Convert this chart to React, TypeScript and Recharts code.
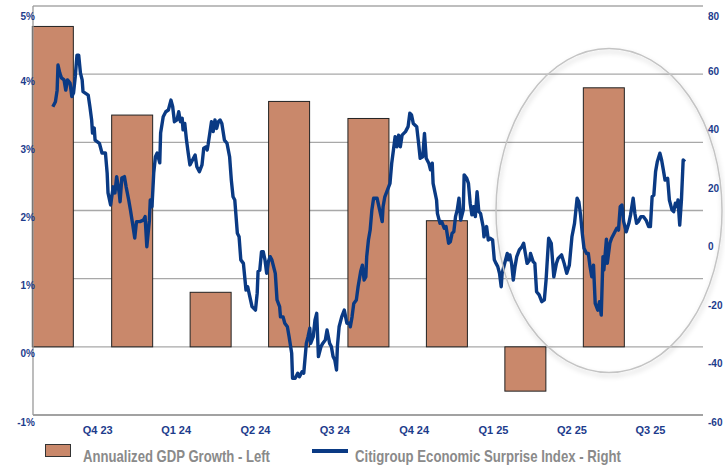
import React from 'react';
import {
  ComposedChart,
  Bar,
  Line,
  XAxis,
  YAxis,
  CartesianGrid,
  ReferenceDot
} from 'recharts';

// x runs in days from the left edge of the plot
const quarterLabels = ['Q4 23', 'Q1 24', 'Q2 24', 'Q3 24', 'Q4 24', 'Q1 25', 'Q2 25', 'Q3 25'];
const quarterTickDays = [75, 166, 258, 350, 442, 534, 625, 716];

const gdpQuarters = ['Q3 23', 'Q4 23', 'Q1 24', 'Q2 24', 'Q3 24', 'Q4 24', 'Q1 25', 'Q2 25'];
const gdpDays = [23, 115, 206, 297, 389, 480, 571, 662];
const gdpGrowth = [4.7, 3.4, 0.8, 3.6, 3.35, 1.85, -0.65, 3.8];

const leftTicks = [-1, 0, 1, 2, 3, 4, 5];
const rightTicks = [-60, -40, -20, 0, 20, 40, 60, 80];

// [day, index value]
const surpriseIndex: [number, number][] = [
  [23, 45.5], [26, 47.2], [28, 51.2], [29, 59.8], [31, 57.1], [33, 55.4], [36, 54.7], [38, 51.2],
  [40, 54.7], [43, 53.6], [45, 49.0], [47, 50.2], [49, 55.8], [51, 63.2], [53, 63.2], [55, 57.1],
  [57, 54.7], [58, 50.7], [64, 49.5], [66, 45.5], [68, 41.0], [69, 36.5], [71, 38.2], [72, 34.1],
  [77, 33.0], [80, 29.7], [84, 29.7], [86, 22.8], [87, 16.0], [90, 11.9], [93, 18.1], [95, 16.0],
  [97, 21.6], [100, 16.0], [101, 13.0], [103, 21.1], [106, 21.6], [108, 18.1], [111, 13.6], [113, 10.2],
  [116, 4.5], [118, 0.6], [120, 6.2], [124, 6.2], [128, 6.7], [130, 7.9], [132, -2.4], [135, 6.7],
  [136, 13.6], [138, 11.3], [140, 22.8], [142, 28.4], [144, 29.7], [147, 26.3], [148, 36.5], [151, 42.1],
  [154, 43.8], [157, 44.4], [160, 47.8], [162, 45.5], [164, 40.4], [167, 41.0], [169, 43.8], [171, 40.4],
  [173, 41.6], [174, 37.6], [176, 39.8], [178, 34.1], [180, 29.7], [182, 25.6], [185, 27.3], [188, 29.0],
  [190, 25.0], [193, 23.3], [196, 25.6], [198, 31.3], [201, 31.8], [202, 30.7], [203, 32.4], [205, 36.4],
  [207, 40.4], [209, 37.0], [211, 41.0], [213, 38.1], [215, 40.4], [217, 41.0], [219, 39.8], [222, 34.1],
  [225, 33.0], [228, 28.4], [230, 20.4], [232, 14.7], [234, 13.6], [237, 2.2], [239, 1.0], [241, -6.9],
  [244, -8.1], [247, -17.2], [249, -16.1], [251, -18.9], [254, -22.9], [258, -24.1], [260, -18.3], [261, -10.9],
  [263, -10.4], [265, -4.1], [267, -4.1], [269, -6.9], [271, -11.5], [273, -7.5], [275, -5.8], [277, -6.9],
  [281, -11.5], [283, -20.6], [286, -22.9], [287, -26.4], [290, -26.4], [292, -28.6], [295, -29.8], [297, -33.2],
  [300, -38.9], [301, -47.4], [304, -47.4], [307, -45.7], [309, -46.9], [312, -45.2], [314, -45.7], [317, -35.5],
  [319, -33.2], [321, -30.3], [322, -35.5], [325, -33.2], [327, -27.5], [329, -25.2], [331, -40.0], [334, -36.6],
  [336, -35.5], [339, -34.3], [341, -30.9], [344, -35.5], [346, -36.6], [348, -40.0], [350, -41.2], [352, -44.6],
  [353, -36.6], [355, -29.8], [358, -26.4], [361, -24.1], [364, -28.6], [367, -28.6], [368, -29.8], [370, -26.4],
  [372, -21.8], [375, -20.6], [377, -16.1], [380, -10.9], [382, -8.7], [384, -13.8], [386, -12.7], [387, -5.8],
  [389, -0.1], [391, 3.3], [393, 10.2], [395, 14.2], [399, 14.2], [402, 10.2], [405, 6.2], [406, 11.3],
  [408, 14.7], [411, 17.0], [414, 19.3], [416, 26.2], [418, 30.7], [420, 35.3], [422, 31.8], [424, 35.8],
  [426, 31.8], [428, 35.8], [432, 37.0], [435, 38.7], [437, 43.3], [439, 42.7], [441, 39.8], [445, 38.7],
  [447, 33.5], [449, 27.9], [452, 28.4], [454, 36.4], [456, 27.9], [459, 26.2], [461, 23.9], [463, 26.2],
  [464, 19.3], [468, 13.6], [469, 9.0], [472, 5.6], [474, 6.2], [477, 3.9], [479, 4.5], [482, -1.2],
  [484, -0.7], [486, 2.2], [488, 2.7], [490, 7.9], [492, 10.2], [494, 14.2], [496, 6.7], [499, 10.2],
  [500, 22.2], [503, 21.0], [505, 19.3], [507, 12.5], [509, 8.5], [511, 11.3], [513, 7.9], [515, 16.4],
  [517, 9.6], [519, 9.0], [522, 4.5], [523, 1.0], [526, 4.5], [528, -0.1], [530, 0.5], [533, -0.1],
  [535, -6.9], [537, -8.1], [539, -9.2], [541, -11.5], [543, -16.1], [544, -11.5], [547, -8.1], [550, -4.7],
  [551, -6.9], [553, -5.2], [555, -8.1], [557, -13.8], [559, -9.2], [561, -5.8], [564, -3.5], [567, -2.4],
  [569, -1.2], [571, -4.7], [573, -8.1], [576, -6.9], [577, -4.7], [580, -7.5], [582, -8.1], [584, -17.8],
  [587, -18.9], [590, -21.2], [593, -20.6], [595, -13.8], [598, 0.5], [601, -1.2], [604, -12.7], [607, -8.1],
  [609, -6.4], [613, -5.2], [616, -8.1], [619, -11.5], [622, -8.7], [625, 1.0], [628, 5.6], [631, 14.2],
  [633, 13.0], [635, 8.5], [637, 2.2], [639, -2.9], [642, -4.7], [644, -4.7], [646, -9.2], [648, -12.7],
  [650, -8.7], [652, -21.8], [655, -24.1], [657, -21.2], [659, -25.8], [661, -5.8], [662, -10.4], [665, 0.2],
  [666, -8.1], [669, -1.2], [671, 0.5], [674, 2.2], [677, 3.9], [679, 3.3], [681, 11.3], [683, 11.9],
  [685, 6.2], [688, 2.7], [691, 5.6], [693, 8.5], [696, 14.2], [698, 9.0], [700, 5.6], [702, 6.2],
  [705, 7.9], [708, 7.9], [711, 6.7], [714, 4.5], [716, 4.5], [718, 14.7], [720, 15.3], [722, 23.3],
  [724, 26.7], [727, 29.6], [729, 27.3], [731, 23.9], [733, 20.4], [736, 21.0], [738, 13.6], [741, 10.2],
  [743, 9.6], [745, 12.5], [747, 11.3], [748, 13.6], [750, 5.0], [752, 13.6], [754, 27.3], [756, 26.7]
];

const BAR_FILL = '#c9886b';
const LINE_BLUE = '#0a3a84';
const TICK_BLUE = '#1d3c8c';
const GRID = '#a8a8a8';
const FONT = '"Liberation Sans", Arial, sans-serif';
const BAR_WIDTH = 41;

const gdpData = gdpQuarters.map((q, i) => ({ quarter: q, day: gdpDays[i], gdp: gdpGrowth[i] }));
const csiData = surpriseIndex.map(([day, csi]) => ({ day, csi }));

const XTick = (props: any) => {
  const { x, y, payload } = props;
  const idx = quarterTickDays.indexOf(payload.value);
  return (
    <text x={x} y={y + 19} textAnchor="middle" fontSize={11} fontWeight={700} fill={TICK_BLUE} fontFamily={FONT}>
      {quarterLabels[idx]}
    </text>
  );
};

const LeftTick = (props: any) => {
  const { x, y, payload } = props;
  return (
    <text x={x + 2} y={y + 10.5} textAnchor="end" fontSize={10} fontWeight={700} fill={TICK_BLUE} fontFamily={FONT}>
      {`${payload.value}%`}
    </text>
  );
};

const RightTick = (props: any) => {
  const { x, y, payload } = props;
  return (
    <text x={x + 5} y={y + 10.5} textAnchor="start" fontSize={10} fontWeight={700} fill={TICK_BLUE} fontFamily={FONT}>
      {payload.value}
    </text>
  );
};

// numeric x axis leaves the band tiny, so widen each bar around its centre
const GdpBar = (props: any) => {
  const { x, y, width, height } = props;
  if (x == null || y == null) return null;
  const cx = x + width / 2;
  const top = height < 0 ? y + height : y;
  return (
    <rect
      x={cx - BAR_WIDTH / 2}
      y={top}
      width={BAR_WIDTH}
      height={Math.abs(height)}
      fill={BAR_FILL}
      stroke="#222"
      strokeWidth={1}
    />
  );
};

// highlight ring around the recent quarters
const Ring = (props: any) => {
  const { cx, cy } = props;
  if (cx == null || cy == null) return null;
  return (
    <g>
      <defs>
        <filter id="ringShadow" x="-20%" y="-20%" width="140%" height="140%">
          <feDropShadow dx="1" dy="3" stdDeviation="2.5" floodColor="#000" floodOpacity="0.22" />
        </filter>
      </defs>
      <ellipse cx={cx} cy={cy} rx={113} ry={162} fill="none" stroke="#c4c4c4" strokeWidth={1.5} filter="url(#ringShadow)" />
    </g>
  );
};

const App = () => {
  return (
    <div style={{ position: 'absolute', left: 0, top: 0, width: 725, height: 467, background: '#fff' }}>
      <ComposedChart
        width={725}
        height={467}
        data={gdpData}
        margin={{ top: 6, right: 0, left: 0, bottom: 0 }}
      >
        <CartesianGrid yAxisId="left" vertical={false} stroke={GRID} strokeWidth={1.3} />
        <XAxis
          type="number"
          dataKey="day"
          domain={[0, 777]}
          ticks={quarterTickDays}
          height={52}
          tickSize={0}
          tickMargin={0}
          tickLine={false}
          axisLine={{ stroke: '#999', strokeWidth: 1.3 }}
          tick={<XTick />}
        />
        <YAxis
          yAxisId="left"
          width={33}
          domain={[-1, 5]}
          ticks={leftTicks}
          tickSize={0}
          tickMargin={0}
          tickLine={false}
          axisLine={{ stroke: '#999', strokeWidth: 1.3 }}
          tick={<LeftTick />}
        />
        <YAxis
          yAxisId="right"
          orientation="right"
          width={22}
          domain={[-60, 80]}
          ticks={rightTicks}
          tickSize={0}
          tickMargin={0}
          tickLine={false}
          axisLine={false}
          tick={<RightTick />}
        />
        <Bar
          yAxisId="left"
          dataKey="gdp"
          shape={<GdpBar />}
          fill={BAR_FILL}
          isAnimationActive={false}
        />
        <ReferenceDot yAxisId="left" x={668} y={2.0} r={5} shape={<Ring />} />
        <Line
          yAxisId="right"
          data={csiData}
          dataKey="csi"
          type="linear"
          stroke={LINE_BLUE}
          strokeWidth={3.4}
          strokeLinejoin="round"
          dot={false}
          activeDot={false}
          isAnimationActive={false}
        />
      </ComposedChart>

      {/* legend */}
      <svg width={725} height={467} style={{ position: 'absolute', left: 0, top: 0, pointerEvents: 'none' }}>
        <rect x={45.5} y={444.5} width={25} height={12} fill={BAR_FILL} stroke="#333" strokeWidth={1} />
        <text
          x={83}
          y={462}
          fontSize={17}
          fontWeight={700}
          fill="#8a8a8a"
          fontFamily={FONT}
          textLength={187}
          lengthAdjust="spacingAndGlyphs"
        >
          Annualized GDP Growth - Left
        </text>
        <line x1={312} x2={348} y1={451} y2={451} stroke={LINE_BLUE} strokeWidth={4} />
        <text
          x={355}
          y={462}
          fontSize={17}
          fontWeight={700}
          fill="#8a8a8a"
          fontFamily={FONT}
          textLength={266}
          lengthAdjust="spacingAndGlyphs"
        >
          Citigroup Economic Surprise Index - Right
        </text>
      </svg>
    </div>
  );
};

export default App;
